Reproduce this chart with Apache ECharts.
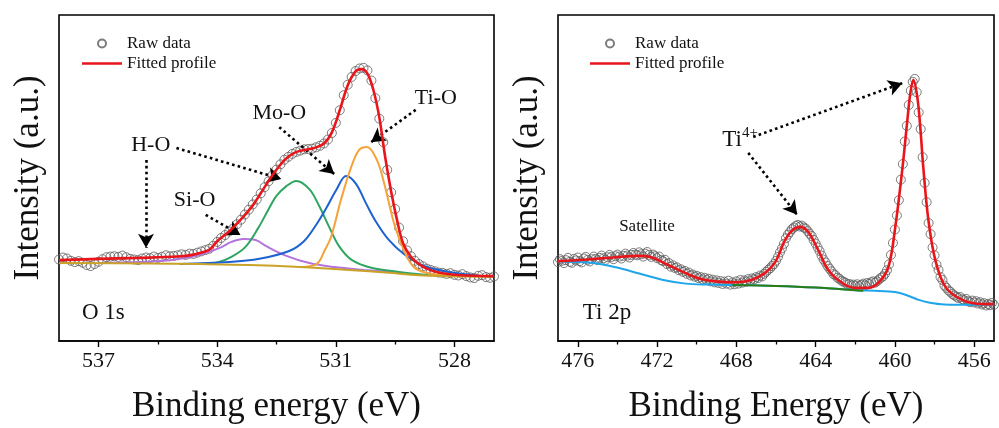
<!DOCTYPE html>
<html>
<head>
<meta charset="utf-8">
<script src="https://cdn.jsdelivr.net/npm/echarts@6/dist/echarts.min.js"></script>
<style>
  html, body { margin: 0; padding: 0; background: #fff; }
  #chart { width: 999px; height: 428px; }
</style>
</head>
<body>
<div id="chart"></div>
<script>
// ---------------- O 1s ----------------
// measured on a 0.1 eV grid, 538.0 eV down to 527.0 eV
const o1sScan = { start: 538.0, step: 0.1 };
const o1sRaw = [
  25.0, 25.6, 25.3, 24.6, 24.2, 24.5, 24.0, 23.3, 23.0, 23.6,
  24.3, 25.1, 25.7, 25.9, 26.0, 25.8, 26.2, 25.7, 25.2, 25.0,
  24.8, 25.3, 25.6, 25.4, 25.9, 25.5, 25.8, 26.3, 26.0, 26.1,
  26.3, 26.6, 26.4, 26.8, 26.7, 27.1, 27.5, 27.9, 28.3, 29.2,
  30.4, 31.6, 32.5, 33.6, 34.5, 35.8, 37.2, 38.8, 40.3, 41.9,
  43.4, 45.3, 47.2, 49.0, 50.9, 52.6, 54.2, 55.6, 56.5, 57.4,
  58.0, 58.4, 58.8, 58.9, 59.0, 59.4, 59.9, 60.6, 61.8, 63.8,
  66.9, 70.8, 75.4, 78.6, 81.0, 82.8, 83.6, 83.8, 83.0, 79.9,
  74.5, 68.2, 61.0, 52.5, 45.6, 40.5, 34.8, 30.6, 27.8, 26.0,
  24.6, 23.6, 22.9, 22.2, 21.8, 21.4, 21.0, 20.9, 20.6, 20.8,
  20.3, 20.1, 20.5, 19.9, 19.5, 19.3, 20.0, 20.2, 19.6, 19.4,
  19.8
];
const o1sFit = [
  [538.0, 24.8], [537.0, 25.2], [536.0, 25.5], [535.0, 25.9], [534.6, 26.5],
  [534.2, 28.0], [534.0, 30.6], [533.7, 33.6], [533.4, 37.3], [533.1, 41.6],
  [532.9, 45.3], [532.6, 50.9], [532.3, 55.5], [532.05, 57.7], [531.8, 58.6],
  [531.55, 59.2], [531.3, 60.6], [531.1, 64.0], [530.9, 70.8], [530.7, 78.4],
  [530.5, 82.7], [530.35, 83.4], [530.2, 82.0], [530.05, 77.0], [529.9, 68.6],
  [529.75, 56.3], [529.6, 45.8], [529.45, 37.0], [529.3, 30.0], [529.1, 25.8],
  [528.9, 23.6], [528.7, 22.2], [528.4, 21.0], [528.0, 20.3], [527.5, 20.0],
  [527.0, 19.9]
];
const o1sTiO = [
  [531.9, 22.7], [531.55, 23.2], [531.42, 24.4], [531.29, 27.6], [531.12, 31.9],
  [530.87, 43.3], [530.61, 53.4], [530.41, 58.6], [530.21, 59.5], [529.96, 55.5],
  [529.78, 48.5], [529.53, 36.2], [529.28, 27.9], [529.03, 22.7], [528.70, 20.9],
  [528.27, 20.2], [527.8, 19.9]
];
const o1sMoO = [
  [534.95, 23.6], [533.69, 24.2], [532.93, 25.2], [532.18, 27.6], [531.80, 30.7],
  [531.50, 35.6], [531.24, 40.8], [530.99, 46.3], [530.74, 50.6], [530.49, 48.2],
  [530.24, 42.3], [529.98, 36.5], [529.66, 31.0], [529.28, 26.7], [528.77, 23.0],
  [528.14, 21.2], [527.03, 19.6]
];
const o1sHO = [
  [534.45, 23.6], [533.97, 24.2], [533.64, 25.8], [533.29, 28.8], [532.96, 34.7],
  [532.71, 40.2], [532.50, 44.5], [532.25, 47.5], [532.00, 49.1], [531.67, 46.6],
  [531.42, 41.4], [531.17, 35.0], [530.92, 29.1], [530.59, 24.8], [530.08, 22.4],
  [529.40, 21.2], [528.65, 20.2]
];
const o1sSiO = [
  [536.97, 23.9], [535.96, 24.2], [535.20, 24.8], [534.65, 25.8], [534.22, 27.3],
  [533.89, 28.8], [533.64, 30.4], [533.34, 31.3], [533.03, 31.0], [532.76, 29.1],
  [532.25, 26.1], [531.67, 23.9], [531.04, 22.7], [530.29, 21.8], [529.40, 20.9]
];
const o1sBackground = [
  [538.0, 23.9], [535.71, 23.8], [534.45, 23.6], [533.19, 23.3], [531.92, 22.7],
  [530.66, 21.8], [529.66, 20.9], [528.90, 20.2], [528.14, 19.9], [527.03, 19.6]
];
const o1sTicks = [537, 534, 531, 528];
const o1sMinorTicks = [535.5, 532.5, 529.5];

// ---------------- Ti 2p ----------------
// measured on a 0.1 eV grid, 477.0 eV down to 455.0 eV
const ti2pScan = { start: 477.0, step: 0.1 };
const ti2pRaw = [
  24.2, 25.1, 24.6, 23.9, 24.8, 25.5, 24.3, 24.0, 25.2, 24.7,
  25.6, 24.5, 24.1, 25.3, 25.8, 24.9, 24.4, 25.1, 25.9, 25.2,
  24.8, 25.5, 26.2, 25.4, 24.9, 25.7, 26.4, 25.8, 25.1, 26.0,
  26.5, 25.9, 25.3, 26.1, 26.8, 26.2, 25.6, 26.4, 27.0, 26.5,
  26.3, 27.2, 26.6, 25.9, 26.8, 27.3, 26.4, 25.8, 26.5, 26.0,
  25.4, 25.9, 24.8, 24.5, 24.9, 23.6, 23.9, 22.8, 23.2, 22.4,
  22.6, 21.7, 22.0, 21.2, 21.5, 20.6, 21.0, 20.1, 20.4, 19.7,
  20.0, 19.3, 19.6, 18.9, 19.4, 18.7, 19.1, 18.3, 18.8, 18.0,
  18.6, 17.8, 18.4, 17.5, 18.2, 17.6, 18.5, 17.3, 18.0, 17.4,
  18.3, 17.6, 18.7, 17.9, 18.6, 18.2, 19.0, 18.4, 19.2, 18.9,
  19.6, 19.3, 20.1, 19.8, 20.6, 21.2, 21.8, 22.3, 23.0, 23.6,
  24.6, 25.8, 27.2, 28.4, 29.8, 31.5, 32.6, 33.4, 34.3, 34.8,
  35.3, 35.6, 35.1, 35.4, 34.8, 34.5, 33.7, 32.9, 32.2, 31.0,
  29.9, 28.7, 27.6, 26.2, 25.0, 24.1, 23.0, 22.2, 21.4, 20.5,
  20.2, 19.4, 19.1, 18.5, 18.2, 17.9, 17.4, 17.5, 17.0, 17.3,
  16.9, 17.4, 16.8, 17.2, 17.6, 17.1, 17.8, 17.5, 18.0, 18.3,
  17.9, 18.3, 18.9, 19.4, 19.8, 20.6, 21.7, 23.5, 26.4, 30.1,
  34.2, 38.5, 43.2, 49.5, 54.3, 61.2, 66.0, 72.4, 76.8, 79.5,
  80.4, 76.3, 70.1, 65.0, 56.4, 48.5, 42.6, 36.2, 32.8, 28.7,
  26.3, 23.4, 21.8, 19.6, 18.7, 17.0, 16.3, 15.5, 15.1, 14.4,
  14.0, 13.6, 13.2, 13.5, 12.8, 12.5, 12.9, 12.2, 11.9, 12.4,
  11.8, 12.2, 11.5, 11.9, 11.2, 11.6, 10.9, 11.4, 11.0, 11.7,
  11.1
];
const ti2pFit = [
  [477.0, 24.5], [475.33, 25.1], [474.12, 25.7], [472.96, 26.1], [472.30, 25.7],
  [471.44, 23.3], [470.59, 20.9], [469.78, 19.0], [468.92, 18.2], [468.06, 18.0],
  [467.25, 18.7], [466.55, 20.9], [466.04, 24.2], [465.54, 31.0], [465.18, 34.0],
  [464.78, 35.0], [464.37, 33.4], [463.87, 27.9], [463.36, 21.8], [462.66, 17.8],
  [462.0, 16.3], [461.34, 16.3], [460.84, 17.8], [460.33, 22.7], [459.98, 35.0],
  [459.63, 52.5], [459.37, 67.8], [459.22, 76.1], [459.07, 80.1], [458.87, 74.8],
  [458.72, 65.6], [458.57, 53.4], [458.31, 37.1], [457.96, 24.8], [457.45, 16.6],
  [456.60, 12.6], [455.59, 11.3], [455.0, 11.3]
];
const ti2pBackground = [
  [477.0, 24.4], [475.35, 24.0], [474.07, 22.6], [472.9, 20.7], [471.75, 18.8],
  [470.55, 17.6], [469.5, 17.3], [468.2, 17.2], [466.0, 16.9], [464.0, 16.4],
  [462.0, 15.6], [461.0, 15.4], [460.3, 15.2], [459.8, 14.8], [459.3, 13.8],
  [458.8, 12.6], [458.3, 11.8], [457.5, 11.2], [456.0, 11.1], [455.0, 11.1]
];
const ti2pPeakBackground = [
  [468.2, 17.2], [466.0, 16.9], [464.0, 16.4], [462.0, 15.6], [461.6, 15.4]
];
const ti2pTicks = [476, 472, 468, 464, 460, 456];
const ti2pMinorTicks = [474, 470, 466, 462, 458];

// ---------------- styling ----------------
const FONT = "'Liberation Serif', 'Times New Roman', serif";
const INK = '#111';
const FIT_RED = '#e8151b';

function scanPoints(scan, values) {
  return values.map((v, i) => [+(scan.start - i * scan.step).toFixed(2), v]);
}

function arrows(list) {
  return {
    silent: true,
    symbol: ['none', 'arrow'],
    symbolSize: [12, 14],
    lineStyle: { color: '#000', width: 2.6, type: [2.6, 3.2], opacity: 1 },
    label: { show: false },
    emphasis: { disabled: true },
    animation: false,
    data: list.map(a => [{ coord: a[0] }, { coord: a[1] }])
  };
}

function notes(list) {
  return {
    silent: true,
    symbol: 'circle',
    symbolSize: 1,
    itemStyle: { color: 'rgba(0,0,0,0)' },
    emphasis: { disabled: true },
    animation: false,
    label: { show: true, position: 'inside', color: INK, fontFamily: FONT, fontSize: 22 },
    data: list
  };
}

function xAxes(gridIndex, min, max, ticks, minorTicks) {
  return [{
    type: 'value', gridIndex, min, max, inverse: true,
    axisLine: { show: true, onZero: false, lineStyle: { color: '#000', width: 1.6 } },
    axisTick: { show: true, inside: false, length: 6, customValues: ticks,
                lineStyle: { color: '#000', width: 1.4 } },
    axisLabel: { show: true, customValues: ticks, margin: 9, color: INK,
                 fontFamily: FONT, fontSize: 22 },
    splitLine: { show: false },
    name: gridIndex === 0 ? 'Binding energy (eV)' : 'Binding Energy (eV)',
    nameLocation: 'middle', nameGap: 48,
    nameTextStyle: { color: INK, fontFamily: FONT, fontSize: 35 }
  }, {
    type: 'value', gridIndex, min, max, inverse: true, position: 'bottom',
    axisLine: { show: false },
    axisTick: { show: true, inside: false, length: 3.5, customValues: minorTicks,
                lineStyle: { color: '#000', width: 1.3 } },
    axisLabel: { show: false },
    splitLine: { show: false }
  }];
}

function yAxis(gridIndex) {
  return {
    type: 'value', gridIndex, min: 0, max: 100,
    axisLine: { show: false }, axisTick: { show: false },
    axisLabel: { show: false }, splitLine: { show: false },
    name: 'Intensity (a.u.)', nameLocation: 'middle', nameGap: 13, nameRotate: 90,
    nameTextStyle: { color: INK, fontFamily: FONT, fontSize: 35 }
  };
}

function rawSeries(axis, data) {
  return {
    name: 'Raw data', type: 'scatter', xAxisIndex: axis, yAxisIndex: axis / 2,
    data, symbol: 'circle', symbolSize: 9, z: 1, silent: true,
    itemStyle: { color: 'rgba(0,0,0,0)', borderColor: '#5c5c5c', borderWidth: 1 }
  };
}

function curve(name, axis, data, color, width, z, smooth) {
  return {
    name, type: 'line', xAxisIndex: axis, yAxisIndex: axis / 2, data,
    smooth: smooth === undefined ? 0.35 : smooth, symbol: 'none', z, silent: true,
    lineStyle: { color, width }, itemStyle: { color }
  };
}

// legend: hollow circle for the measured points, plain red bar for the fit
const legendBase = {
  orient: 'vertical', top: 30, itemWidth: 40, itemHeight: 8, itemGap: 3,
  selectedMode: false,
  data: [
    { name: 'Raw data' },
    { name: 'Fitted profile', icon: 'path://M0 0H40V2.6H0Z', itemStyle: { color: FIT_RED } }
  ],
  textStyle: { color: INK, fontFamily: FONT, fontSize: 17 }
};

const o1sFitSeries = curve('Fitted profile', 0, o1sFit, FIT_RED, 2.6, 5);
o1sFitSeries.markLine = arrows([
  [[535.8, 55.5], [535.8, 28.6]],
  [[535.03, 59.2], [532.38, 49.7]],
  [[534.29, 38.7], [533.41, 32.5]],
  [[532.43, 65.6], [531.04, 51.2]],
  [[528.98, 70.9], [530.11, 61.0]]
]);
o1sFitSeries.markPoint = notes([
  { name: 'Ti-O', coord: [528.47, 74.5], label: { formatter: 'Ti-O' } },
  { name: 'Mo-O', coord: [532.43, 69.9], label: { formatter: 'Mo-O' } },
  { name: 'H-O', coord: [535.68, 60.1], label: { formatter: 'H-O' } },
  { name: 'Si-O', coord: [534.57, 43.3], label: { formatter: 'Si-O' } },
  { name: 'O 1s', coord: [536.88, 8.6], label: { formatter: 'O 1s', fontSize: 23 } }
]);

const ti2pFitSeries = curve('Fitted profile', 2, ti2pFit, FIT_RED, 2.6, 5);
ti2pFitSeries.markLine = arrows([
  [[467.15, 62.6], [459.63, 79.1]],
  [[467.40, 57.7], [464.93, 38.7]]
]);
ti2pFitSeries.markPoint = notes([
  { name: 'Ti4+', coord: [467.81, 62.0], label: {
      formatter: '{t|Ti}{s|4+}',
      rich: {
        t: { fontFamily: FONT, fontSize: 23, color: INK, verticalAlign: 'bottom', lineHeight: 26 },
        s: { fontFamily: FONT, fontSize: 15, color: INK, verticalAlign: 'top', lineHeight: 15 }
      } } },
  { name: 'Satellite', coord: [472.51, 35.0], label: { formatter: 'Satellite', fontSize: 17 } },
  { name: 'Ti 2p', coord: [474.53, 8.6], label: { formatter: 'Ti 2p', fontSize: 23 } }
]);

const option = {
  backgroundColor: '#fff',
  animation: false,
  grid: [
    { left: 59, top: 15, width: 435, height: 326, show: true, borderColor: '#000',
      borderWidth: 1.6, backgroundColor: 'transparent', containLabel: false, outerBoundsMode: 'none' },
    { left: 558, top: 15, width: 436, height: 326, show: true, borderColor: '#000',
      borderWidth: 1.6, backgroundColor: 'transparent', containLabel: false, outerBoundsMode: 'none' }
  ],
  xAxis: [
    ...xAxes(0, 527, 538, o1sTicks, o1sMinorTicks),
    ...xAxes(1, 455, 477, ti2pTicks, ti2pMinorTicks)
  ],
  yAxis: [yAxis(0), yAxis(1)],
  legend: [
    Object.assign({}, legendBase, { left: 77 }),
    Object.assign({}, legendBase, { left: 585 })
  ],
  series: [
    rawSeries(0, scanPoints(o1sScan, o1sRaw)),
    curve('Si-O', 0, o1sSiO, '#b474de', 2, 2),
    curve('H-O', 0, o1sHO, '#2fa562', 2, 2),
    curve('Mo-O', 0, o1sMoO, '#1d62d0', 2, 2),
    curve('Ti-O', 0, o1sTiO, '#f6a23a', 2, 2),
    curve('Background', 0, o1sBackground, '#c9a227', 2, 3),
    o1sFitSeries,

    rawSeries(2, scanPoints(ti2pScan, ti2pRaw)),
    curve('Background', 2, ti2pBackground, '#1ea5ea', 2, 2),
    curve('Peak background', 2, ti2pPeakBackground, '#2b7c14', 2, 3),
    ti2pFitSeries
  ]
};

const chart = echarts.init(document.getElementById('chart'), null, { renderer: 'canvas' });
chart.setOption(option);
</script>
</body>
</html>
